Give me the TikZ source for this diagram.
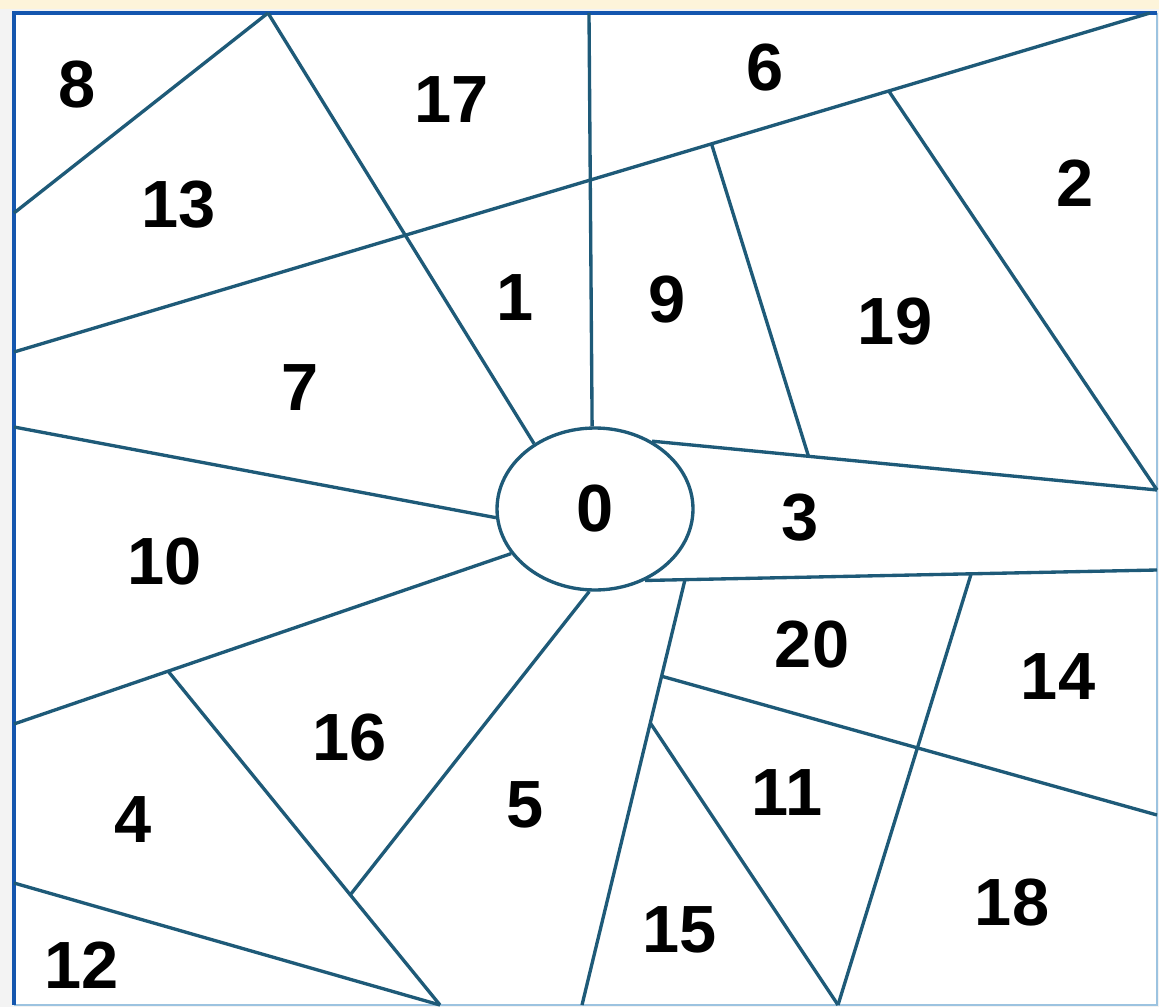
\documentclass[tikz,border=0pt]{standalone}
\usepackage{fontspec}
\setmainfont{Liberation Sans}
\usepackage{tikz}
\usetikzlibrary{shapes.geometric, calc}

\definecolor{seamteal}{HTML}{1E5A78}
\definecolor{frameblue}{HTML}{1456AE}
\definecolor{edgeblue}{HTML}{9CC3E0}
\definecolor{cream}{HTML}{FDF4DA}
\definecolor{paper}{HTML}{F3F3F3}

\begin{document}
\begin{tikzpicture}[x=0.02cm, y=-0.02cm,
        seam/.style={draw=seamteal, line width=1.9pt},
        num/.style={font=\fontsize{38}{42}\selectfont\bfseries, inner sep=0pt}]
        \useasboundingbox (0,0) rectangle (1159,1007);

        % Draw background and frame
        \fill[paper] (0,0) rectangle (1159,1007);
        \fill[cream] (0,0) rectangle (1159,9);
        \fill[white] (14,13) rectangle (1157,1005);
        \draw[edgeblue, line width=0.8pt] (1157,13) -- (1157,1005) -- (14,1005);
        \draw[frameblue, line width=2.4pt] (14,1005) -- (14,13) -- (1157,13);

        % Centre region
        \node[seam, ellipse, fill=white, minimum width=3.92cm, minimum height=3.24cm, inner sep=0pt,
              font=\fontsize{38}{42}\selectfont\bfseries] (zero) at (595,509) {0};

        % Border points
        \coordinate (leftA) at (14,213);
        \coordinate (apex) at (268,13);
        \coordinate (leftB) at (14,352);
        \coordinate (cornerTR) at (1150,13);
        \coordinate (topV) at (589,13);
        \coordinate (rightA) at (1157,490);
        \coordinate (rightB) at (1157,570);
        \coordinate (rightC) at (1157,815);
        \coordinate (leftC) at (14,427);
        \coordinate (leftD) at (14,724);
        \coordinate (leftE) at (14,883);
        \coordinate (botA) at (440,1005);
        \coordinate (botB) at (582,1005);
        \coordinate (botC) at (838,1005);

        % Long diagonal and the points on it
        \draw[seam] (leftB) -- (cornerTR)
            coordinate[pos=0.614] (top9) coordinate[pos=0.770] (top19);

        % Upper part
        \draw[seam] (leftA) -- (apex);
        \draw[seam] (apex) -- (zero.133);
        \draw[seam] (topV) -- (zero.92);
        \draw[seam] (zero.50) -- (rightA) coordinate[pos=0.31] (foot9);
        \draw[seam] (top9) -- (foot9);
        \draw[seam] (top19) -- (rightA);

        % Left part
        \draw[seam] (leftC) -- (zero.185);
        \draw[seam] (zero.208) -- (leftD) coordinate[pos=0.69] (knee16);
        \draw[seam] (knee16) -- (botA) coordinate[pos=0.67] (foot16);
        \draw[seam] (zero.266) -- (foot16);
        \draw[seam] (leftE) -- (botA);

        % Lower right part
        \draw[seam] (zero.305) -- (rightB)
            coordinate[pos=0.078] (top20) coordinate[pos=0.637] (top14);
        \draw[seam] (top20) -- (botB)
            coordinate[pos=0.227] (knee11) coordinate[pos=0.337] (knee15);
        \draw[seam] (top14) -- (botC);
        \draw[seam] (knee11) -- (rightC);
        \draw[seam] (knee15) -- (botC);

        % Add labels
        \node[num] (n8) at (77,85) {8};
        \node[num] (n17) at (452,100) {17};
        \node[num] (n6) at (765,68) {6};
        \node[num] (n13) at (179,205) {13};
        \node[num] (n2) at (1075,183) {2};
        \node[num] (n1) at (515,298) {1};
        \node[num] (n9) at (667,300) {9};
        \node[num] (n19) at (895,322) {19};
        \node[num] (n7) at (300,388) {7};
        \node[num] (n3) at (800,518) {3};
        \node[num] (n10) at (165,562) {10};
        \node[num] (n20) at (812,645) {20};
        \node[num] (n14) at (1058,677) {14};
        \node[num] (n16) at (350,738) {16};
        \node[num] (n11) at (787,793) {11};
        \node[num] (n4) at (133,820) {4};
        \node[num] (n5) at (525,805) {5};
        \node[num] (n18) at (1012,903) {18};
        \node[num] (n15) at (680,930) {15};
        \node[num] (n12) at (82,965) {12};
    \end{tikzpicture}
\end{document}
